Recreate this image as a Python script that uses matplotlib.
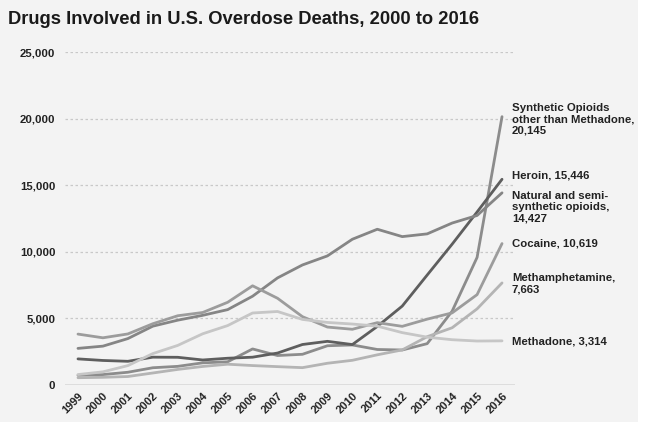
import numpy as np
import matplotlib
matplotlib.use("Agg")
import matplotlib.pyplot as plt
from matplotlib.patches import Rectangle

years = list(range(1999, 2017))

synthetic = [730, 782, 957, 1295, 1400, 1664, 1742, 2707, 2213, 2306,
             2946, 3007, 2666, 2628, 3105, 5544, 9580, 20145]
heroin = [1960, 1842, 1779, 2089, 2080, 1878, 2009, 2088, 2399, 3041,
          3278, 3036, 4397, 5925, 8257, 10574, 12989, 15446]
natural = [2749, 2917, 3484, 4416, 4867, 5231, 5658, 6665, 8040, 9013,
           9692, 10943, 11693, 11140, 11346, 12159, 12727, 14427]
cocaine = [3822, 3544, 3833, 4599, 5199, 5443, 6208, 7448, 6512, 5129,
           4350, 4183, 4681, 4404, 4944, 5415, 6784, 10619]
meth = [547, 578, 637, 902, 1170, 1392, 1561, 1459, 1378, 1302,
        1632, 1854, 2266, 2635, 3627, 4298, 5716, 7663]
methadone = [784, 988, 1456, 2358, 2972, 3845, 4460, 5406, 5518, 4924,
             4696, 4577, 4418, 3932, 3591, 3400, 3301, 3314]

series = [
    (synthetic, "Synthetic Opioids\nother than Methadone,\n20,145", "#8c8c8c", 119),
    (heroin, "Heroin, 15,446", "#5e5e5e", 175),
    (natural, "Natural and semi-\nsynthetic opioids,\n14,427", "#858585", 207),
    (cocaine, "Cocaine, 10,619", "#9c9c9c", 243),
    (meth, "Methamphetamine,\n7,663", "#b4b4b4", 284),
    (methadone, "Methadone, 3,314", "#c6c6c6", 341),
]
yticks = [0, 5000, 10000, 15000, 20000, 25000]
ytick_labels = ["0", "5,000", "10,000", "15,000", "20,000", "25,000"]

W, H = 652, 422
fig = plt.figure(figsize=(W / 100, H / 100), dpi=100)
fig.patch.set_facecolor("white")
fig.patches.append(Rectangle((0, 0), 638 / W, 1, transform=fig.transFigure,
                             facecolor="#f3f3f3", edgecolor="none", zorder=-10))

ax = fig.add_axes([65 / W, (H - 385) / H, 450 / W, 333 / H])
ax.set_facecolor("none")
ax.set_xlim(1998.48, 2016.52)
ax.set_ylim(0, 25000)

for val in yticks[1:]:
    ax.axhline(val, color="#c8c8c8", lw=0.9, ls=(0, (2, 2)), zorder=1)
ax.axhline(0, color="#d6d6d6", lw=1.8, zorder=1)

for vals, label, color, ypix in series:
    ax.plot(years, vals, color=color, lw=2.0, zorder=3, solid_capstyle="round")
    fig.text(512 / W, (H - ypix) / H, label, ha="left", va="center",
             fontsize=8.2, fontweight="bold", color="#222222",
             family=["Liberation Sans", "DejaVu Sans"], linespacing=1.15)

ax.set_yticks(yticks)
ax.set_yticklabels(ytick_labels, fontsize=8.2, fontweight="bold",
                   family=["Liberation Sans", "DejaVu Sans"], color="#222222")
ax.set_xticks(years)
ax.set_xticklabels([str(y) for y in years], rotation=45, ha="right",
                   rotation_mode="anchor", fontsize=8, fontweight="bold",
                   family=["Liberation Sans", "DejaVu Sans"], color="#222222")
ax.tick_params(axis="both", length=0)
ax.tick_params(axis="y", pad=7)
ax.tick_params(axis="x", pad=4)
for s in ax.spines.values():
    s.set_visible(False)

fig.text(8 / W, (H - 20) / H, "Drugs Involved in U.S. Overdose Deaths, 2000 to 2016",
         ha="left", va="center", fontsize=13.2, fontweight="bold", color="#1a1a1a",
         family=["Liberation Sans Narrow", "Liberation Sans", "DejaVu Sans"])

fig.savefig("out.png", dpi=100)
